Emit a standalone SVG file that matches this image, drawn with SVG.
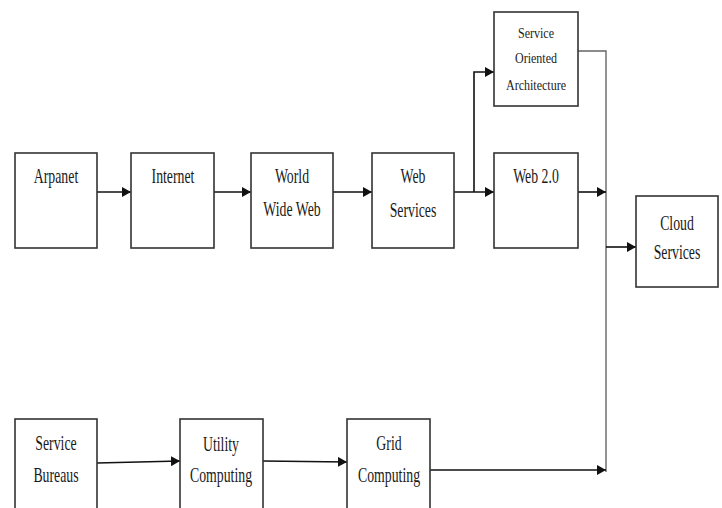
<svg xmlns="http://www.w3.org/2000/svg" width="722" height="508" viewBox="0 0 722 508">
<style>
.box{fill:#fff;stroke:#333;stroke-width:1.6}
.t{font-family:"Liberation Serif","Times New Roman",serif;font-size:20px;fill:#1a1a1a;text-anchor:middle}
.s{font-family:"Liberation Serif","Times New Roman",serif;font-size:15px;fill:#1a1a1a;text-anchor:middle}
.c{fill:none;stroke:#111;stroke-width:1.6}
.g{fill:none;stroke:#666;stroke-width:1.4}
</style>
<defs>
<marker id="ah" markerUnits="userSpaceOnUse" markerWidth="10" markerHeight="10" refX="9" refY="5" orient="auto">
<path d="M0,0 L9,5 L0,10 z" fill="#111"/>
</marker>
</defs>
<rect width="722" height="508" fill="#fff"/>
<g id="connectors">
<path class="c" d="M97,192 H131" marker-end="url(#ah)"/>
<path class="c" d="M214,192 H251" marker-end="url(#ah)"/>
<path class="c" d="M333,192 H372" marker-end="url(#ah)"/>
<path class="c" d="M454,192 H494" marker-end="url(#ah)"/>
<path class="c" d="M474,192 V72 H494" marker-end="url(#ah)"/>
<path class="g" d="M578,51 H606 V472"/>
<path class="c" d="M578,192 H606" marker-end="url(#ah)"/>
<path class="c" d="M606,247 H636" marker-end="url(#ah)"/>
<path class="c" d="M97,463 L180,461" marker-end="url(#ah)"/>
<path class="c" d="M263,461 L347,462" marker-end="url(#ah)"/>
<path class="c" d="M430,470 H606" marker-end="url(#ah)"/>
</g>
<g id="arpanet">
<rect class="box" x="15" y="153" width="82" height="95"/>
<text class="t" transform="translate(56,183) scale(0.69,1)">Arpanet</text>
</g>
<g id="internet">
<rect class="box" x="131" y="153" width="83" height="95"/>
<text class="t" transform="translate(173,183) scale(0.69,1)">Internet</text>
</g>
<g id="www">
<rect class="box" x="251" y="153" width="82" height="95"/>
<text class="t" transform="translate(292,183) scale(0.69,1)">World</text>
<text class="t" transform="translate(292,216) scale(0.69,1)">Wide Web</text>
</g>
<g id="webservices">
<rect class="box" x="372" y="153" width="82" height="95"/>
<text class="t" transform="translate(413,183) scale(0.69,1)">Web</text>
<text class="t" transform="translate(413,217) scale(0.69,1)">Services</text>
</g>
<g id="soa">
<rect class="box" x="494" y="12" width="84" height="94"/>
<text class="s" transform="translate(536,38) scale(0.8,1)">Service</text>
<text class="s" transform="translate(536,63) scale(0.8,1)">Oriented</text>
<text class="s" transform="translate(536,90) scale(0.8,1)">Architecture</text>
</g>
<g id="web20">
<rect class="box" x="494" y="153" width="84" height="95"/>
<text class="t" transform="translate(536,183) scale(0.69,1)">Web 2.0</text>
</g>
<g id="cloud">
<rect class="box" x="636" y="196" width="82" height="91"/>
<text class="t" transform="translate(677,230) scale(0.69,1)">Cloud</text>
<text class="t" transform="translate(677,259) scale(0.69,1)">Services</text>
</g>
<g id="bureaus">
<rect class="box" x="15" y="419" width="82" height="100"/>
<text class="t" transform="translate(56,450) scale(0.69,1)">Service</text>
<text class="t" transform="translate(56,482) scale(0.69,1)">Bureaus</text>
</g>
<g id="utility">
<rect class="box" x="180" y="419" width="83" height="100"/>
<text class="t" transform="translate(221,451) scale(0.69,1)">Utility</text>
<text class="t" transform="translate(221,482) scale(0.69,1)">Computing</text>
</g>
<g id="grid">
<rect class="box" x="347" y="419" width="83" height="100"/>
<text class="t" transform="translate(389,450) scale(0.69,1)">Grid</text>
<text class="t" transform="translate(389,482) scale(0.69,1)">Computing</text>
</g>
</svg>
